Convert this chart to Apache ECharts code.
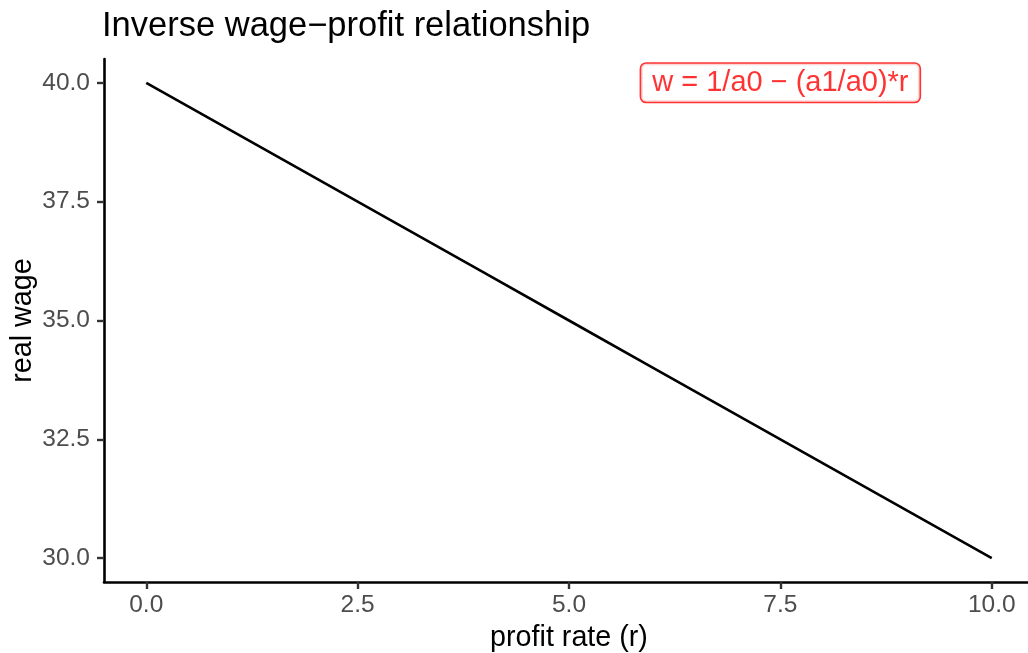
<!DOCTYPE html>
<html>
<head>
<meta charset="utf-8">
<script src="https://cdn.jsdelivr.net/npm/echarts@6/dist/echarts.min.js"></script>
<style>
  html, body { margin: 0; padding: 0; background: #fff; }
  #chart { width: 1028px; height: 653px; }
</style>
</head>
<body>
<div id="chart"></div>
<script>
// profit rate r and real wage w = 1/a0 - (a1/a0)*r
const profitRate = [0, 1, 2, 3, 4, 5, 6, 7, 8, 9, 10]
const realWage = [40, 39, 38, 37, 36, 35, 34, 33, 32, 31, 30]

const xTicks = [0, 2.5, 5, 7.5, 10]
const yTicks = [30, 32.5, 35, 37.5, 40]

const labelText = 'w = 1/a0 \u2212 (a1/a0)*r'
const labelPos = [7.5, 40]

const font = 'Liberation Sans, Arial, Helvetica, sans-serif'
const fmt = v => v.toFixed(1)

const myChart = echarts.init(document.getElementById('chart'))

const option = {
  backgroundColor: '#fff',
  animation: false,
  title: {
    text: 'Inverse wage\u2212profit relationship',
    left: 97, top: 4,
    textStyle: { fontFamily: font, fontSize: 34.5, fontWeight: 'normal', color: '#000' }
  },
  grid: { left: 104, right: -6, top: 59, bottom: 71, outerBoundsMode: 'none', containLabel: false },
  xAxis: {
    type: 'value',
    min: -0.5, max: 10.5,
    name: 'profit rate (r)',
    nameLocation: 'middle',
    nameGap: 42,
    nameMoveOverlap: false,
    nameTextStyle: { fontFamily: font, fontSize: 28.7, color: '#000' },
    splitLine: { show: false },
    axisLine: { onZero: false, lineStyle: { color: '#000', width: 2.6 } },
    axisTick: { customValues: xTicks, length: 7, lineStyle: { color: '#333', width: 2.4 } },
    axisLabel: {
      customValues: xTicks, formatter: fmt, margin: 11,
      fontFamily: font, fontSize: 24.5, color: '#4D4D4D'
    }
  },
  yAxis: {
    type: 'value',
    min: 29.5, max: 40.5,
    name: 'real wage',
    nameLocation: 'middle',
    nameGap: 66,
    nameMoveOverlap: false,
    nameRotate: 90,
    nameTextStyle: { fontFamily: font, fontSize: 28.7, color: '#000' },
    splitLine: { show: false },
    axisLine: { onZero: false, lineStyle: { color: '#000', width: 2.6 } },
    axisTick: { customValues: yTicks, length: 7, lineStyle: { color: '#333', width: 2.4 } },
    axisLabel: {
      customValues: yTicks, formatter: fmt, margin: 14,
      fontFamily: font, fontSize: 24.5, color: '#4D4D4D'
    }
  },
  series: [
    {
      type: 'line',
      data: profitRate.map((r, i) => [r, realWage[i]]),
      showSymbol: false,
      lineStyle: { color: '#000', width: 2.6 }
    },
    {
      type: 'scatter',
      data: [labelPos],
      symbolSize: 0,
      silent: true,
      label: {
        show: true,
        position: 'inside',
        formatter: labelText,
        fontFamily: font,
        fontSize: 29,
        color: '#FF0000',
        backgroundColor: '#fff',
        borderColor: '#FF0000',
        borderWidth: 1.6,
        borderRadius: 5,
        padding: [5, 11, 4, 11]
      }
    }
  ]
}

myChart.setOption(option)
</script>
</body>
</html>
